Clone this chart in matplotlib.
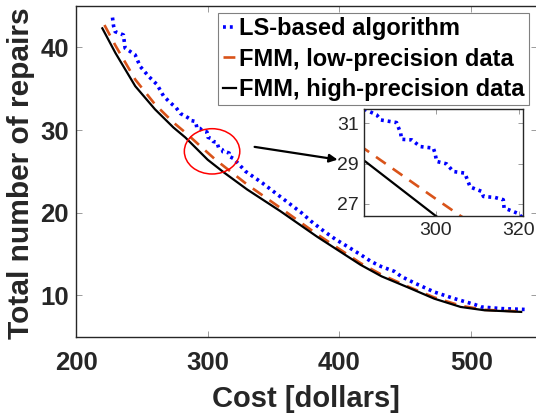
import matplotlib
matplotlib.use("Agg")
import matplotlib.pyplot as plt
from matplotlib.patches import Ellipse

plt.rcParams['font.family'] = ['Liberation Sans', 'DejaVu Sans']

# ---- data ----
ls_cost = [227.7, 228.5, 229.7, 236.0, 237.3, 244.9, 248.7, 255.1, 261.5, 266.5,
           271.6, 276.0, 279.2, 283.1, 285.7, 286.7, 290.5, 291.5, 291.7, 294.2,
           296.2, 299.4, 299.8, 300.2, 302.6, 304.2, 307.0, 308.3, 311.1, 311.5,
           314.3, 316.3, 316.5, 319.6, 320.4, 328.7, 341.4, 355.4, 371.1, 378.2,
           388.3, 397.3, 406.2, 416.3, 424.0, 431.5, 441.7, 446.8, 456.9, 472.1,
           487.4, 502.6, 507.7, 522.9, 540.6]
ls_repairs = [43.6, 42.6, 41.9, 41.5, 39.9, 39.1, 37.7, 36.5, 35.5, 34.1,
              33.3, 32.7, 32.0, 31.67, 31.42, 31.17, 31.04, 30.51, 30.21, 30.18,
              29.85, 29.77, 29.52, 29.11, 28.99, 28.61, 28.53, 27.84, 27.62, 27.37,
              27.32, 27.21, 26.80, 26.55, 26.42, 25.0, 23.6, 21.9, 20.0, 19.0,
              17.75, 16.75, 15.9, 14.9, 14.1, 13.5, 12.9, 12.3, 11.5, 10.4,
              9.6, 8.9, 8.6, 8.4, 8.3]

low_cost = [221.6, 230, 245, 260, 274, 283, 300, 306, 330, 355, 383, 416, 432,
            453, 472, 492, 510, 538]
low_repairs = [42.7, 40.2, 36.1, 33.1, 30.9, 29.7, 27.25, 26.4, 23.4, 20.6, 17.4,
               13.9, 12.5, 11.0, 9.75, 8.75, 8.25, 8.05]

high_cost = [220, 230, 245, 260, 274, 283, 300, 312, 330, 355, 383, 416, 432,
             453, 472, 492, 510, 538]
high_repairs = [42.3, 39.3, 35.3, 32.5, 30.3, 29.1, 26.4, 24.9, 22.8, 20.2, 17.1,
                13.7, 12.3, 10.9, 9.6, 8.6, 8.2, 8.0]

labels = ['LS-based algorithm', 'FMM, low-precision data', 'FMM, high-precision data']
main_xticks = [200, 300, 400, 500]
main_yticks = [10, 20, 30, 40]
inset_xticks = [300, 320]
inset_yticks = [27, 29, 31]

BLUE = '#0000FF'
ORANGE = '#D95319'
DARK = '#262626'

fig = plt.figure(figsize=(5.36, 4.16), dpi=100)
ax = fig.add_axes([76 / 536, (416 - 336.7) / 416, 461 / 536, 330.7 / 416])


def draw(a):
    a.plot(ls_cost, ls_repairs, color=BLUE, lw=2.6, linestyle=(0, (0.8, 1.1)),
           dash_capstyle='butt', label=labels[0])
    a.plot(low_cost, low_repairs, color=ORANGE, lw=1.9, linestyle=(0, (4.5, 3.2)),
           label=labels[1])
    a.plot(high_cost, high_repairs, color='black', lw=1.6, label=labels[2])


draw(ax)
ax.set_xlim(200, 550)
ax.set_ylim(5, 45)
ax.set_xticks(main_xticks)
ax.set_yticks(main_yticks)
ax.tick_params(direction='in', length=4.5, width=0.6, color='#8c8c8c', top=True, right=True,
               labelsize=18.5, labelcolor=DARK)
ax.tick_params(axis='x', pad=10)
ax.tick_params(axis='y', pad=5)
for lab in ax.get_xticklabels() + ax.get_yticklabels():
    lab.set_fontweight('bold')
for s in ax.spines.values():
    s.set_color(DARK)
    s.set_linewidth(1.0)

ax.set_xlabel('Cost [dollars]', fontsize=21, fontweight='bold', color=DARK)
ax.set_ylabel('Total number of repairs', fontsize=21.5, fontweight='bold', color=DARK)
ax.xaxis.set_label_coords(0.498, -0.147)
ax.yaxis.set_label_coords(-0.09, 0.494)

leg = ax.legend(loc='upper right', bbox_to_anchor=(529 / 536, (416 - 12.7) / 416),
                bbox_transform=fig.transFigure, prop={'weight': 'bold', 'size': 17},
                handlelength=0.55, handletextpad=0.15, borderpad=0.18, labelspacing=0.32,
                fancybox=False, framealpha=1, borderaxespad=0)
leg.get_frame().set_edgecolor('#808080')
leg.get_frame().set_linewidth(0.8)

# highlight ellipse and arrow
ax.add_patch(Ellipse((303.3, 27.42), 42.1, 5.48, fill=False, edgecolor='#FF0000', lw=1.1,
                     zorder=5))
ax.annotate('', xy=(398.6, 26.42), xytext=(335.6, 27.96),
            arrowprops=dict(arrowstyle='-|>', color='black', lw=1.6, mutation_scale=12,
                            shrinkA=0, shrinkB=0), zorder=6)

# inset
ins = fig.add_axes([364.3 / 536, (416 - 216) / 416, 158.4 / 536, 106.7 / 416])
draw(ins)
ins.set_xlim(282.7, 321)
ins.set_ylim(26.4, 31.7)
ins.set_xticks(inset_xticks)
ins.set_yticks(inset_yticks)
ins.tick_params(direction='in', length=3.5, width=0.6, color='#8c8c8c', top=True, right=True,
                labelsize=14, labelcolor=DARK, pad=4)
for s in ins.spines.values():
    s.set_color(DARK)
    s.set_linewidth(1.0)

fig.savefig('out.png', dpi=100)
